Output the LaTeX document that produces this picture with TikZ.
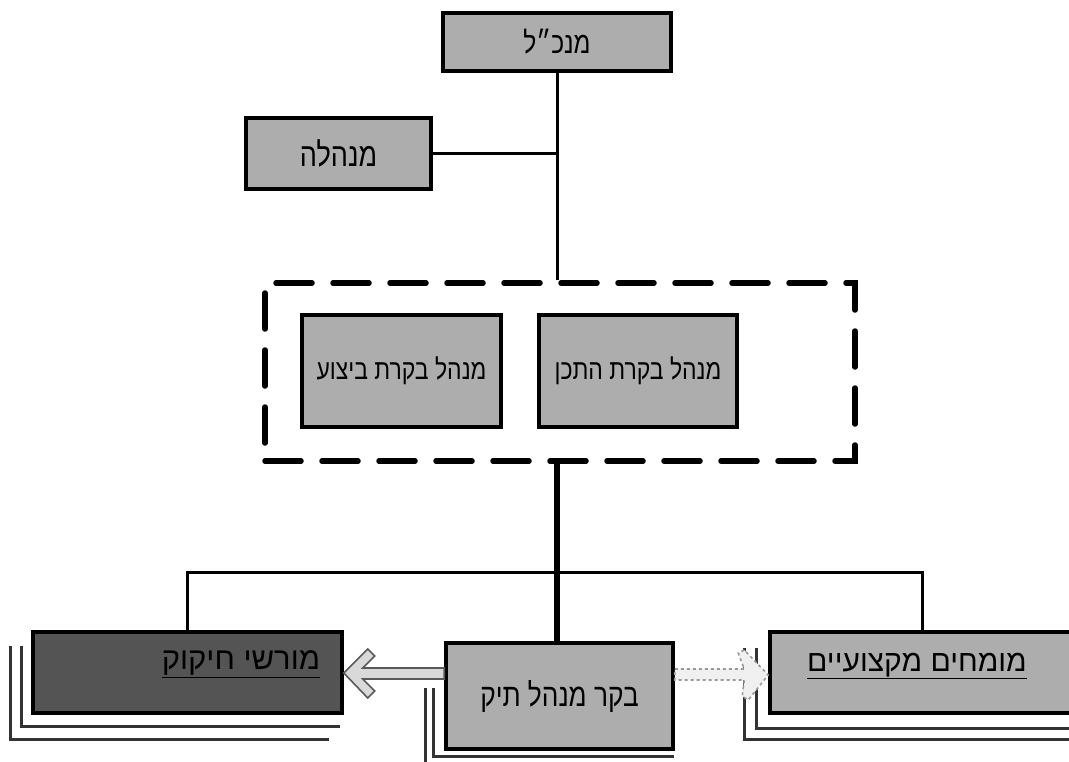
\documentclass[tikz,border=0pt]{standalone}
\usepackage{fontspec}
\newfontfamily\hebfont[Script=Hebrew]{Liberation Sans}
\newfontfamily\hebnarrow[Script=Hebrew,FakeStretch=0.82]{Liberation Sans}
\TeXXeTstate=1
\usetikzlibrary{calc}
\definecolor{lightbox}{rgb}{0.68,0.68,0.68}
\definecolor{darkbox}{rgb}{0.33,0.33,0.33}
\definecolor{shadowline}{rgb}{0.2,0.2,0.2}
\newcommand{\hsz}[1]{\hebfont\fontsize{#1}{#1}\selectfont}
\newcommand{\hnz}[1]{\hebnarrow\fontsize{#1}{#1}\selectfont}
\tikzset{
  orgbox/.style={draw=black, line width=3.5pt, fill=lightbox, inner sep=0pt},
  darkorg/.style={orgbox, fill=darkbox},
  lbl/.style={inner sep=1pt},
  thinlink/.style={line width=3pt, black},
  thicklink/.style={line width=5.5pt, black},
  groupbox/.style={draw=black, line width=5.5pt, dash pattern=on 36pt off 21pt, line cap=round, inner sep=0pt},
  shadowL/.style={line width=2.6pt, shadowline},
  hollowarrow/.style={draw=gray!70!black, line width=1.6pt, fill=gray!30, line join=miter},
  dasharrow/.style={draw=gray!80, line width=1.6pt, dashed, fill=gray!12},
}
\begin{document}
\begin{tikzpicture}[x=1pt,y=-1pt]
\useasboundingbox (0,0) rectangle (1069,761);
\clip (0,0) rectangle (1069,761);
% top
\node[orgbox, minimum width=228pt, minimum height=58pt, font=\hnz{30}] (ceo) at (557,42) {\beginR מנכ״ל\endR};
\node[orgbox, minimum width=185pt, minimum height=71pt, font=\hnz{33}] (admin) at (338.5,153.5) {\beginR מנהלה\endR};
% group
\node[groupbox, minimum width=590pt, minimum height=178pt] (grp) at (560,372) {};
\node[orgbox, minimum width=199pt, minimum height=112pt, font=\hnz{28}] (exe) at (401.5,371) {\beginR מנהל בקרת ביצוע\endR};
\node[orgbox, minimum width=198pt, minimum height=112pt, font=\hnz{28}] (plan) at (638,371) {\beginR מנהל בקרת התכן\endR};
% bottom row
\coordinate (bus) at (557,572);
\node[darkorg, minimum width=309pt, minimum height=81pt] (mor) at (187.5,672.5) {};
\node[orgbox, minimum width=227pt, minimum height=106pt, font=\hnz{32}] (bakar) at (559.5,696) {\beginR בקר מנהל תיק\endR};
\node[orgbox, minimum width=305pt, minimum height=81pt] (mum) at (922.5,672.5) {};
\node[lbl, font=\hsz{31}] (morl) at (241,664) {\underline{\beginR מורשי חיקוק\endR}};
\node[lbl, font=\hsz{30}] (muml) at (917,666) {\underline{\beginR מומחים מקצועיים\endR}};
% shadow L-lines
\draw[shadowL] ($(mor.north west)+(-10,16)$) |- ($(mor.south east)+(-4,12)$);
\draw[shadowL] ($(mor.north west)+(-21,16)$) |- ($(mor.south east)+(-15,25)$);
\draw[shadowL] ($(bakar.north west)+(-11,47)$) |- ($(bakar.south east)+(-1,6)$);
\draw[shadowL] ($(bakar.north west)+(-19,47)$) |- ($(bakar.south east)+(-1,16)$);
\draw[shadowL] ($(mum.north west)+(-12,18)$) |- ($(mum.south east)+(10,14)$);
\draw[shadowL] ($(mum.north west)+(-24,18)$) |- ($(mum.south east)+(10,25)$);
% connectors
\draw[thinlink] (ceo.south) -- (ceo.south |- grp.north);
\draw[thinlink] (admin.east) -- (admin.east -| ceo.south);
\draw[thicklink] (ceo.south |- grp.south) -- (ceo.south |- bakar.north);
\draw[thinlink] (mor.north) -- (mor.north |- bus) -- (mum.north |- bus) -- (mum.north);
% hollow arrow to the left
\draw[hollowarrow] (mor.east |- 0,673) -- ++(24,-24) -- ++(7,7) -- ++(-12,12) -- (bakar.west |- 0,668) -- (bakar.west |- 0,679) -- ($(mor.east |- 0,679)+(19,0)$) -- ++(12,12) -- ++(-7,7) -- cycle;
% dashed arrow to the right
\draw[dasharrow] (bakar.east |- 0,669) -- ($(mum.west |- 0,669)+(-24,0)$) -- ++(-6,-16) -- ++(6,-3) -- (mum.west |- 0,675) -- ($(mum.west |- 0,675)+(-20,25)$) -- ++(-6,-4) -- ($(mum.west |- 0,680)+(-24,0)$) -- (bakar.east |- 0,680) -- cycle;
\end{tikzpicture}
\end{document}
